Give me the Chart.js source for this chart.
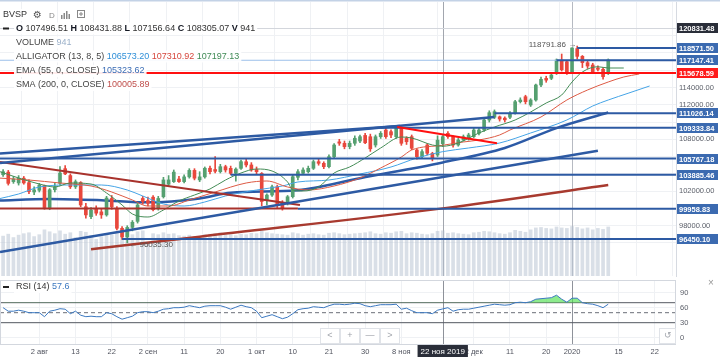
<!DOCTYPE html>
<html><head><meta charset="utf-8">
<script src="https://cdn.jsdelivr.net/npm/chart.js@4.4.0/dist/chart.umd.min.js"></script>
<style>
html,body{margin:0;padding:0;background:#fff;width:720px;height:357px;overflow:hidden}
canvas{position:absolute;left:0}
#main{top:0}
#rsi{top:278px}
</style></head><body>
<canvas id="main" width="720" height="278"></canvas>
<canvas id="rsi" width="720" height="79"></canvas>
<script>
// ---------- DATA ----------
const FIRST_BAR = -7;            // bar index of first candle (24 Jul 2019); 2 Aug 2019 = 0
const CROSS_BAR = 78;            // 22 Nov 2019 (crosshair)
const YEAR_BAR = 103;            // 2 Jan 2020
const CROSS_PRICE = 120831.48;
const crossDateLabel = '22 ноя 2019';

const opens = [103900,104200,103100,102950,103500,102980,101900,102100,
102650,100100,102160,102900,104600,103800,102500,103000,100200,99050,
99950,99600,99250,101150,100000,97700,96700,97800,98500,101150,
100900,101300,100000,101350,102800,103100,103400,103100,103650,104400,
103300,103650,104650,104500,104250,104830,104640,104060,104640,105400,
105030,104500,104050,100900,101550,102500,100600,100600,101360,103600,
104065,104250,104640,105410,105220,104830,105990,107700,107540,107150,
107540,107800,108450,108300,107340,108300,109076,108880,108300,109270,
108120,108300,106760,105990,107340,106380,106180,107496.51,108690,108300,
107340,107920,108120,108300,108690,109076,110234,110550,110600,110450,
110550,111010,112350,112930,111970,112550,114285,115050,115060,115640,
117150,116980,115710,118500,117600,116870,116600,116250,116100,115640];
const highs = [104500,104400,103700,103800,103700,103300,102500,102900,
102700,102300,102900,104830,104950,104000,103300,103100,100600,100100,
100300,99900,101400,101500,100200,97900,98000,98600,100600,101400,
101300,101500,101400,103600,103800,104450,103700,103900,104600,104600,
104250,104800,104900,105990,105100,105000,104900,104700,105600,105700,
105300,104800,104150,101700,102700,102700,100900,101500,103900,104500,
104700,104900,105600,105700,105400,106200,107500,108000,107800,107800,
108400,108500,108700,108600,108500,108900,109300,109100,109600,109400,
108300,108500,106900,106800,107500,106500,108400,108431.88,108900,108400,
108100,108500,108700,109300,109300,110400,111300,111400,110700,110600,
111200,112500,112800,113100,112700,114400,115200,115300,115700,117300,
117870,117100,118573,118791.86,117700,117100,116800,116500,116300,117300];
const lows = [103700,102700,102900,102700,102800,101700,101600,101900,
99900,99850,101900,102700,103900,102300,102300,100200,98860,98800,
99200,98850,99100,99900,97500,96400,96035.30,97400,98300,100500,
100300,99700,99800,101200,102600,103000,103000,102950,103500,103300,
103100,103500,104000,104100,104100,104200,103900,103150,104500,104800,
104300,104000,100300,100400,101400,100100,99800,100400,101200,103300,
103900,104100,104500,105000,104600,104700,105800,107300,106900,106900,
107300,107600,107500,106600,107100,108100,108100,108200,108100,107300,
107400,106800,105700,105800,106200,105500,106000,107156.64,108100,107100,
107200,107800,107900,108200,108500,108900,110000,110400,110100,110000,
110400,110900,112200,112100,111800,112400,114100,114600,114900,115500,
115900,115500,115600,117300,116300,116200,115600,115900,114950,115500];
const closes = [104250,102900,103400,103500,102950,101950,102150,102700,
100100,102160,102500,104100,104000,102500,103100,100400,99250,99800,
99450,99250,101200,100200,97700,96700,97800,98400,100400,100800,
100600,99850,101150,103300,103300,104200,103100,103650,104400,103500,
103650,104650,104250,104300,104830,104450,104060,104550,105410,105030,
104450,104250,100800,101550,102500,100400,100010,101350,103670,104250,
104450,104640,105410,105220,104830,105990,107340,107550,107150,107540,
108120,108300,107600,106900,108300,108690,108300,108500,109270,107540,
107720,106960,105990,106570,106380,105800,107900,108305.07,108300,107340,
107920,108300,108500,109076,109076,110234,111080,111200,110350,110250,
111010,112350,112550,112350,112550,114285,114940,114850,115440,117180,
116050,115710,118573,117600,116870,116480,115830,116100,115250,117180];
const volumes = [830,870,800,850,880,900,820,860,
960,920,880,940,870,900,800,930,910,840,
760,820,880,850,900,950,910,860,920,940,
700,880,860,900,870,880,840,830,850,820,
800,860,870,880,900,850,860,840,870,860,
890,880,930,900,880,870,860,850,900,880,
850,870,880,860,850,890,900,880,860,870,
880,890,900,920,880,870,900,890,920,930,
880,900,890,870,860,880,930,941,890,900,
880,870,860,900,910,930,920,900,880,870,
900,950,930,910,960,1000,1010,990,980,1020,
1000,990,1030,1010,980,1000,960,990,970,1020];
const rsiValues = [60,53,53,55,53,50,50,50,
42,53,55,58,57,48,53,45,42,43,
42,42,50,48,42,37,40,43,50,52,
52,50,53,57,58,60,60,61,64,62,
60,63,64,64,64,61,57,61,65,62,
60,53,40,43,46,42,38,41,48,56,
58,59,62,61,60,64,67,67,66,67,
69,68,64,62,64,66,66,66,67,57,
59,54,50,50,50,48,55,57.6,60,53,
56,57,57,59,61,63,65,67,66,65,
66,70,71,70,72,77,78,79,80,85,
77,71,79,79,70,68,67,64,60,67];

// indicator lines (bar index, value)
const lipsBars = [-8,-4,0,3,6,10,13,16,18,21,24,27,30,33,36,39,42,45,48,49,51,54,57,60,63,66,70,72,76,78,81,85,88,92,95,98,101,103,105,108,110,113];
const lipsVals = [104331,103521,102826,102479,102942,102826,101785,100396,99354,99007,99817,100859,101553,102248,103289,104100,104562,104331,103058,102132,102016,102479,104100,104794,105836,106993,108266,108150,107340,107197.13,107572,108729,109424,110234,111160,112201,113127,114632,115790,116400,116252,116252];
const teethBars = [-8,-2,4,10,14,18,21,25,29,34,40,44,48,52,57,62,66,70,72,78,82,85,89,91,97,102,106,110,113,116];
const teethVals = [103521,103289,102942,102595,101900,100975,100280,100280,100975,101900,102942,103174,102479,102132,102595,103521,104678,105951,106762,107310.92,107688,107919,108498,109076,110581,112549,113706,114632,115211,115558];
const jawBars = [-8,-4,0,6,12,17,20,24,28,32,36,42,47,50,56,62,68,73,78,83,89,95,102,107,110,114,118];
const jawVals = [101090,101669,102479,102711,102711,102132,101438,100512,100280,100743,101438,102132,102595,103058,103289,103984,104794,105836,106573.20,106993,107572,108729,110234,111854,112549,113359,114169];
const emaBars = [-8,2,12,21,31,37,50,62,78,90,100,110];
const emaVals = [100900,101100,100950,100700,101150,101800,102100,103500,105323.62,107000,109300,111100];
const smaBars = [10,31,78,110];
const smaVals = [95270,96730,100005.89,102710];

// drawn horizontal levels and where they start (bar index)
const levelValues = [118571.50,117147.41,111026.14,109333.84,105767.18,103885.46,99958.83,96450.10];
const levelFrom   = [104,100,88,66,-8,37,50,16];
const redLevel = 115678.59;
const redFlatLevel = 100000;   const redFlatTo = 50;
// drawn trend lines: [fromBar, fromPrice, toBar, toPrice]
const blueTrends = [[-7.6,106360,69.7,109540],[-7.6,105260,88,110580],[-7.6,94960,108,106680]];
const redTrends  = [[-7.6,105370,50.4,100400]];
const brightTrends = [[69.2,109420,88.5,107540]];
const highMark = {bar:104, value:118791.86};
const lowMark  = {bar:17, value:96035.30};

// axes
const X_MIN = -7.6, X_MAX = 123.1;
const Y_MIN = 92178, Y_MAX = 123891;
const priceTicks = [96000,98000,100000,102000,104000,106000,108000,110000,112000,114000,116000,118000,120000];
const dateTicks  = [0,7,14,21,28,35,42,49,56,63,70,84,91,98,103,112,119];
const dateLabels = ['2 авг','13','22','2 сен','11','20','1 окт','10','21','30','8 ноя','2 дек','11','20','2020','15','22'];
const rsiTicks = [0,30,60,90];
const rsiLevels = [70,50,30];

// ---------- STYLE / BUILD ----------
const F = "'Liberation Sans', Arial, sans-serif";
const UP = '#55a070', DOWN = '#e8473c', GRID = '#eff1f4';
const BLUE = '#2d5aa3', DRED = '#a8322c';
const bar = i => FIRST_BAR + i;
const colors = closes.map((c,i)=> c >= opens[i] ? UP : DOWN);
const pts = (xs, ys) => xs.map((x,i)=>({x, y: ys[i]}));
const seg = t => [{x:t[0],y:t[1]},{x:t[2],y:t[3]}];
const at = (xs, ys, b) => ys[xs.indexOf(b)];
const boxedPrices = [CROSS_PRICE, redLevel, ...levelValues];
const tickHidden = v => boxedPrices.some(p => Math.abs(p - v) < 900);
const noPad = ax => { ax.paddingTop = 0; ax.paddingBottom = 0; };

const lineDs = (data, color, width, order, extra) => Object.assign({type:'line', data, borderColor:color, borderWidth:width, pointRadius:0, order, fill:false}, extra||{});

const datasets = [
  {type:'bar', data: volumes.map((v,i)=>({x:bar(i), y:v})), yAxisID:'yv', backgroundColor:'rgba(180,192,207,0.5)', barThickness:3, order:40},
  lineDs(pts(smaBars, smaVals), '#a83a2f', 2.5, 30, {cubicInterpolationMode:'monotone'}),
  lineDs(pts(emaBars, emaVals), '#2c5aa6', 2.5, 29, {cubicInterpolationMode:'monotone'}),
  {type:'bar', data: closes.map((c,i)=>({x:bar(i), y:[lows[i], highs[i]]})), backgroundColor: colors, barThickness:1, order:21},
  {type:'bar', data: closes.map((c,i)=>({x:bar(i), y:[opens[i], c]})), backgroundColor: colors, barThickness:3, minBarLength:1, order:20},
  lineDs(pts(jawBars, jawVals), '#45a4e6', 1, 15, {cubicInterpolationMode:'monotone'}),
  lineDs(pts(teethBars, teethVals), '#dd5a44', 1, 14, {cubicInterpolationMode:'monotone'}),
  lineDs(pts(lipsBars, lipsVals), '#448c56', 1, 13, {cubicInterpolationMode:'monotone'}),
  lineDs([{x:X_MIN,y:levelValues[1]},{x:X_MAX,y:levelValues[1]}], '#9cc0ea', 1, 9),
  lineDs([{x:X_MIN,y:redFlatLevel},{x:redFlatTo,y:redFlatLevel}], DRED, 2, 8),
  ...redTrends.map(t=>lineDs(seg(t), DRED, 2, 7)),
  ...blueTrends.map(t=>lineDs(seg(t), BLUE, 2.5, 6)),
  ...levelValues.map((v,k)=>lineDs([{x:levelFrom[k],y:v},{x:X_MAX,y:v}], BLUE, 2, 5)),
  ...brightTrends.map(t=>lineDs(seg(t), '#ff1010', 2, 4)),
  lineDs([{x:X_MIN,y:redLevel},{x:X_MAX,y:redLevel}], '#ff1010', 2, 3),
];

function drawRow(ctx, x, y, parts, size){
  let w = 0;
  parts.forEach(p=>{ ctx.font = `${p[2]?'bold ':''}${size}px ${F}`; w += ctx.measureText(p[0]).width; });
  ctx.fillStyle = 'rgba(255,255,255,0.92)';
  ctx.fillRect(x-2, y-6, w+4, 12);
  ctx.textBaseline = 'middle'; ctx.textAlign = 'left';
  parts.forEach(p=>{ ctx.font = `${p[2]?'bold ':''}${size}px ${F}`; ctx.fillStyle = p[1]; ctx.fillText(p[0], x, y); x += ctx.measureText(p[0]).width; });
}
const fmt = v => v.toFixed(2);

const mainDeco = {
  id:'mainDeco',
  beforeDatasetsDraw(chart){
    const {ctx, chartArea:a, scales:{x,y}} = chart;
    ctx.save(); ctx.lineWidth = 1;
    [[YEAR_BAR,'#b6bac2'],[CROSS_BAR,'#a2a6ae']].forEach(([b,c])=>{
      const px = Math.round(x.getPixelForValue(b))+0.5;
      ctx.strokeStyle=c; ctx.beginPath(); ctx.moveTo(px,a.top); ctx.lineTo(px,a.bottom); ctx.stroke();
    });
    const py = Math.round(y.getPixelForValue(CROSS_PRICE))+0.5;
    ctx.strokeStyle='#d3d6dc'; ctx.beginPath(); ctx.moveTo(a.left,py); ctx.lineTo(a.right,py); ctx.stroke();
    ctx.restore();
  },
  afterDatasetsDraw(chart){
    const {ctx, chartArea:a, scales:{x,y}} = chart;
    const ci = CROSS_BAR - FIRST_BAR;
    ctx.save();
    ctx.fillStyle = '#c3d2e6'; ctx.fillRect(0,0,720,1.5);
    drawRow(ctx, 3, 15, [['BVSP','#333',false]], 9);
    ctx.font = `10px 'DejaVu Sans'`; ctx.fillStyle='#555'; ctx.fillText('⚙', 33, 15);
    ctx.font = `8px ${F}`; ctx.fillStyle='#888'; ctx.fillText('D', 49, 15.5);
    ctx.fillStyle='#888'; ctx.fillRect(61,15,1.5,4); ctx.fillRect(63.5,13,1.5,6); ctx.fillRect(66,11,1.5,8); ctx.fillRect(68.5,14,1.5,5);
    ctx.strokeStyle='#888'; ctx.lineWidth=1; ctx.strokeRect(77.5,10.5,7,7); ctx.beginPath(); ctx.moveTo(79,14); ctx.lineTo(83,14); ctx.moveTo(81,12); ctx.lineTo(81,16); ctx.stroke();
    ctx.fillStyle='#222'; ctx.fillRect(3,27.5,6,2);
    drawRow(ctx, 16, 28.5, [['O ','#131722',true],[fmt(opens[ci])+' ','#333',false],['H ','#131722',true],[fmt(highs[ci])+' ','#333',false],['L ','#131722',true],[fmt(lows[ci])+' ','#333',false],['C ','#131722',true],[fmt(closes[ci])+' ','#333',false],['V ','#131722',true],[String(volumes[ci]),'#333',false]], 9);
    drawRow(ctx, 16, 42.5, [['VOLUME ','#444',false],[String(volumes[ci]),'#9bb0c9',false]], 9);
    drawRow(ctx, 16, 56.5, [['ALLIGATOR (13, 8, 5) ','#444',false],[fmt(at(jawBars,jawVals,CROSS_BAR))+' ','#2f8fd8',false],[fmt(at(teethBars,teethVals,CROSS_BAR))+' ','#d6463c',false],[fmt(at(lipsBars,lipsVals,CROSS_BAR)),'#3f8a55',false]], 9);
    drawRow(ctx, 16, 71, [['EMA (55, 0, CLOSE) ','#444',false],[fmt(at(emaBars,emaVals,CROSS_BAR)),'#3a6cb5',false]], 9);
    drawRow(ctx, 16, 85, [['SMA (200, 0, CLOSE) ','#444',false],[fmt(at(smaBars,smaVals,CROSS_BAR)),'#c0504d',false]], 9);
    ctx.font = `8px ${F}`; ctx.fillStyle = '#555'; ctx.textBaseline='middle';
    ctx.textAlign='right';
    ctx.fillText(fmt(highMark.value)+' →', x.getPixelForValue(highMark.bar)-1, y.getPixelForValue(highMark.value)-1);
    ctx.textAlign='left';
    ctx.fillText('← '+fmt(lowMark.value), x.getPixelForValue(lowMark.bar)+2, y.getPixelForValue(lowMark.value)+2);
    const box = (v,bg)=>{
      const py = Math.round(y.getPixelForValue(v));
      ctx.fillStyle = bg; ctx.fillRect(a.right+1, py-5, 41, 10);
      ctx.fillStyle = '#fff'; ctx.font = `bold 7.5px ${F}`; ctx.textAlign='left'; ctx.textBaseline='middle';
      ctx.fillText(fmt(v), a.right+3, py+0.5);
    };
    box(CROSS_PRICE,'#2a2e39');
    levelValues.forEach(v=>box(v,'#3b6ab0'));
    box(redLevel,'#ff1a1a');
    ctx.restore();
  }
};

new Chart(document.getElementById('main'), {
  type:'bar',
  data:{datasets},
  options:{
    responsive:false, animation:false, devicePixelRatio:1, events:[],
    layout:{padding:{top:2,bottom:2,left:0,right:0}},
    plugins:{legend:{display:false}, tooltip:{enabled:false}},
    datasets:{bar:{grouped:false, borderWidth:0}},
    scales:{
      x:{type:'linear', min:X_MIN, max:X_MAX, offset:false,
         afterBuildTicks: ax=>{ ax.ticks = dateTicks.map(v=>({value:v})); },
         afterFit: ax=>{ ax.height = 0; ax.paddingLeft = 0; ax.paddingRight = 0; },
         ticks:{display:false}, grid:{color:GRID, drawTicks:false}, border:{display:false}},
      y:{position:'right', min:Y_MIN, max:Y_MAX,
         afterBuildTicks: ax=>{ ax.ticks = priceTicks.map(v=>({value:v})); },
         afterFit: ax=>{ ax.width = 44; noPad(ax); },
         ticks:{callback:v=> tickHidden(v) ? '' : Number(v).toFixed(2), font:{family:F,size:7.5}, color:'#5a5e68', padding:3},
         grid:{color:GRID, drawTicks:false}, border:{color:'#d6dae1'}},
      yv:{display:false, min:0, max:5700}
    }
  },
  plugins:[mainDeco]
});

// ---------- RSI ----------
const rsiDeco = {
  id:'rsiDeco',
  beforeDatasetsDraw(chart){
    const {ctx, chartArea:a, scales:{x}} = chart;
    ctx.save(); ctx.lineWidth=1;
    [[YEAR_BAR,'#8e929a'],[CROSS_BAR,'#8e929a']].forEach(([b,c])=>{
      const px = Math.round(x.getPixelForValue(b))+0.5;
      ctx.strokeStyle=c; ctx.beginPath(); ctx.moveTo(px,a.top); ctx.lineTo(px,a.bottom); ctx.stroke();
    });
    ctx.restore();
  },
  afterDraw(chart){
    const {ctx, chartArea:a, scales:{x}} = chart;
    ctx.save();
    ctx.strokeStyle='#d3d7de'; ctx.lineWidth=1;
    ctx.strokeRect(a.left+0.5, a.top+0.5, a.right-a.left-1, a.bottom-a.top);
    ctx.fillStyle='#222'; ctx.fillRect(3,8,6,2);
    drawRow(ctx, 16, 9, [['RSI (14) ','#333',false],[String(rsiValues[CROSS_BAR-FIRST_BAR]),'#3b78c0',false]], 9);
    ctx.font = `10px ${F}`; ctx.fillStyle='#999'; ctx.textAlign='center'; ctx.textBaseline='middle';
    ctx.fillText('×', 711, 5);
    const btn = (x0,w,g)=>{ ctx.fillStyle='#fff'; ctx.fillRect(x0,50,w,16); ctx.strokeStyle='#e0e3e8'; ctx.strokeRect(x0+0.5,50.5,w-1,15); ctx.fillStyle='#a0a4ab'; ctx.font=`9px ${F}`; ctx.textAlign='center'; ctx.fillText(g, x0+w/2, 58); };
    btn(320,20,'<'); btn(340,20,'+'); btn(360,20,'—'); btn(380,20,'>'); btn(659,17,'↺');
    ctx.font = `8px ${F}`;
    const cx = x.getPixelForValue(CROSS_BAR);
    const w = ctx.measureText(crossDateLabel).width + 6;
    ctx.fillStyle='#2a2e39'; ctx.fillRect(cx-w/2, a.bottom+1, w, 12);
    ctx.fillStyle='#fff'; ctx.textAlign='center'; ctx.textBaseline='middle';
    ctx.fillText(crossDateLabel, cx, a.bottom+7.5);
    ctx.restore();
  }
};

new Chart(document.getElementById('rsi'), {
  type:'line',
  data:{datasets:[
    {data: rsiValues.map((v,i)=>({x:bar(i), y:v})), borderColor:'#3b78c0', borderWidth:1, pointRadius:0, order:1,
     fill:{target:{value:70}, above:'rgba(80,225,80,0.65)', below:'rgba(0,0,0,0)'}},
    ...rsiLevels.map(v=>({data:[{x:X_MIN,y:v},{x:X_MAX,y:v}], borderColor: v===50?'#6a6e78':'#555962', borderWidth:1, borderDash: v===50?[4,3]:[], pointRadius:0, fill:false, order:2}))
  ]},
  options:{
    responsive:false, animation:false, devicePixelRatio:1, events:[],
    layout:{padding:{top:2,bottom:0,left:0,right:0}},
    plugins:{legend:{display:false}, tooltip:{enabled:false}},
    scales:{
      x:{type:'linear', min:X_MIN, max:X_MAX, offset:false,
         afterBuildTicks: ax=>{ ax.ticks = dateTicks.map(v=>({value:v})); },
         afterFit: ax=>{ ax.height = 13; ax.paddingLeft = 0; ax.paddingRight = 0; },
         ticks:{callback:v=>dateLabels[dateTicks.indexOf(v)], font:{family:F,size:7.5}, color:'#50535e', padding:3, autoSkip:false, maxRotation:0},
         grid:{color:GRID, drawTicks:false}, border:{display:false}},
      y:{position:'right', min:-12.6, max:115.4,
         afterBuildTicks: ax=>{ ax.ticks = rsiTicks.map(v=>({value:v})); },
         afterFit: ax=>{ ax.width = 44; noPad(ax); },
         ticks:{font:{family:F,size:7.5}, color:'#5a5e68', padding:4},
         grid:{color:GRID, drawTicks:false}, border:{display:false}}
    }
  },
  plugins:[rsiDeco]
});
</script>
</body></html>
